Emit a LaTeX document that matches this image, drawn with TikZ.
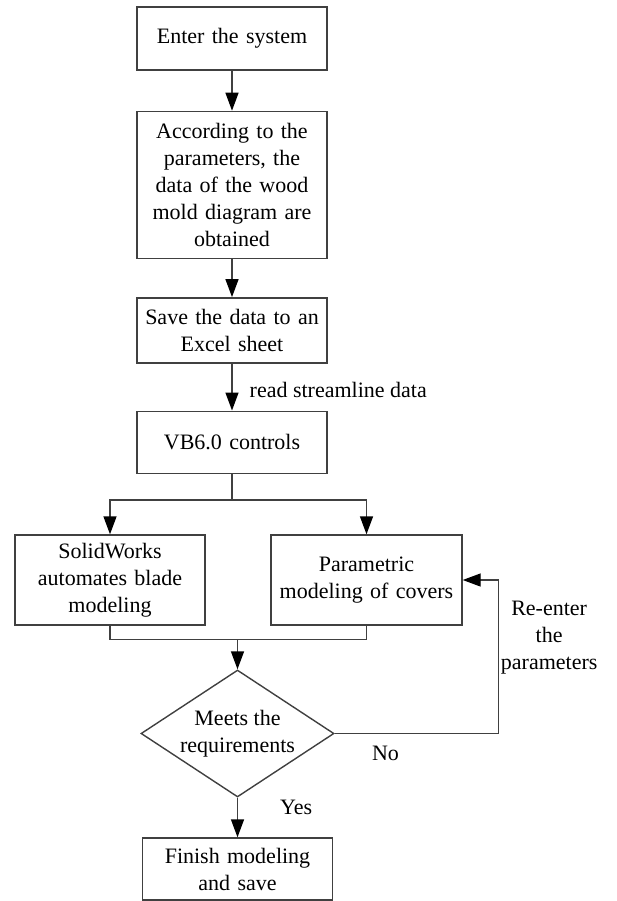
\documentclass[tikz,border=0pt]{standalone}
\usepackage{fontspec}
\setmainfont{Liberation Serif}
\usetikzlibrary{shapes.geometric, arrows.meta, positioning, calc}
\newcommand{\flowfont}{\fontsize{22}{27}\selectfont}

\begin{document}
\begin{tikzpicture}[
        x=1pt, y=-1pt,
        block/.style={rectangle, draw=black!75, line width=1.4pt, minimum width=190pt, minimum height=#1, text width=182pt, inner sep=4pt, align=center, font=\flowfont},
        block/.default=63pt,
        decision/.style={diamond, draw=black!75, line width=1.4pt, aspect=1.52, inner sep=0pt, minimum width=193pt, minimum height=127pt, align=center, font=\flowfont},
        arrow/.style={-{Triangle[length=18pt, width=13pt, color=black]}, line width=1.4pt, draw=black!75},
        link/.style={line width=1.4pt, draw=black!75},
        annot/.style={font=\flowfont, inner sep=0pt}
    ]
    \useasboundingbox (0,0) rectangle (617,901);

    \node[block] (enter) at (232,38.5) {Enter the system};
    \node[block=147pt, below=40pt of enter] (obtain) {According to the\\ parameters, the\\ data of the wood\\ mold diagram are\\ obtained};
    \node[block=65pt, below=38pt of obtain] (excel) {Save the data to an\\ Excel sheet};
    \node[block=62pt, below=47pt of excel] (vb) {VB6.0 controls};

    \node[block=90pt] (solid) at (110,580) {SolidWorks\\ automates blade\\ modeling};
    \node[block=90pt, minimum width=191pt] (cover) at (366.5,580) {Parametric\\ modeling of covers};

    \node[decision] (meet) at (237.5,733.5) {Meets the\\ requirements};
    \node[block=62pt, minimum width=189pt] (finish) at (237.5,869) {Finish modeling\\ and save};

    \draw[arrow] (enter) -- (obtain);
    \draw[arrow] (obtain) -- (excel);
    \draw[arrow] (excel) -- node[annot, right, xshift=17pt, yshift=-3pt] {read streamline data} (vb);

    % split to the two modeling steps
    \coordinate (split) at ($(vb.south)+(0,26)$);
    \draw[link] (vb) -- (split);
    \draw[arrow] (split) -| (solid);
    \draw[arrow] (split) -| (cover);

    % merge into the check
    \coordinate (merge) at ($(solid.south)+(0,14)$);
    \draw[link] (solid.south) -- (merge) -| (cover.south);
    \draw[arrow] (merge -| meet.north) -- (meet.north);

    \draw[arrow] (meet) -- node[annot, right, pos=0.25, xshift=42pt] {Yes} (finish);

    % feedback loop
    \coordinate (back) at ($(meet.east)+(164,0)$);
    \draw[arrow] (meet.east) -- node[annot, below, pos=0.31, yshift=-12pt] {No} (back) |- (cover.east);
    \node[annot, anchor=west, align=center] (reenter) at ($(back)+(2,-96)$) {Re-enter\\ the\\ parameters};
\end{tikzpicture}
\end{document}
